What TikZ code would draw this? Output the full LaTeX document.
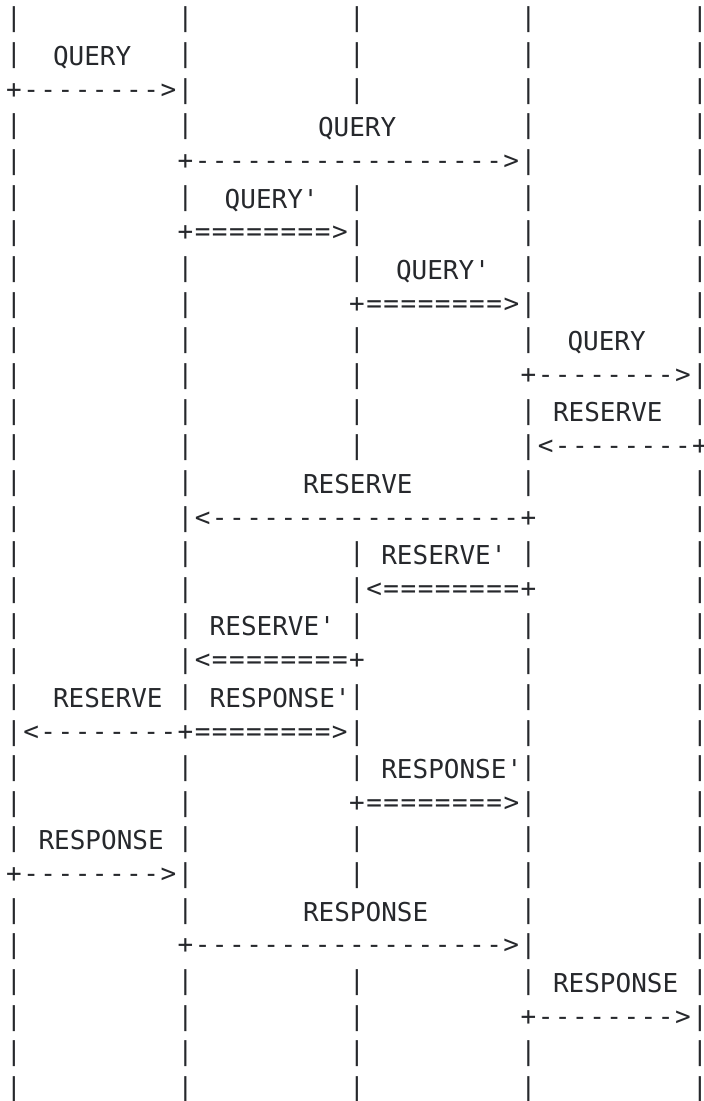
\documentclass[tikz,border=0pt]{standalone}
\usepackage{fontspec}
\setmonofont{DejaVu Sans Mono}
\definecolor{ink}{RGB}{38,40,44}

% one fixed-width cell per character; '.' leaves the cell empty
\newlength\cellw
\setlength\cellw{17.15pt}
\newcommand\cellchar[1]{\makebox[\cellw][c]{\if.#1\else#1\fi}}
\makeatletter
\newcommand\cellrow[1]{\cellrow@#1\@nil}
\def\cellrow@#1{\ifx#1\@nil\else\cellchar{#1}\expandafter\cellrow@\fi}
\makeatother
% the right-most column: a narrow box centred on the same spot
\newcommand\edgechar[1]{\hspace{6.575pt}\makebox[4pt][c]{#1}}

\tikzset{
  glyphs/.style={anchor=base west, inner sep=0pt, outer sep=0pt, text=ink,
    font=\ttfamily\fontsize{26pt}{26pt}\selectfont},
  symrow/.style={glyphs},
  msglabel/.style={glyphs}
}
% row r: centre line at -(20 + (r-1)*35.66)
\newcommand\symrow[3]{\node[symrow] (row#1) at (5.425,{-26.8-(#1-1)*35.66}) {\cellrow{#2}\edgechar{#3}};}
\newcommand\msg[4]{\node[msglabel] (#1) at (#3,{-29.7-(#2-1)*35.66}) {#4};}

\begin{document}
\begin{tikzpicture}[x=1pt,y=1pt]
\useasboundingbox (0,0) rectangle (704,-1101);

% lifelines and arrows
\symrow{1}{|.........|.........|.........|.........}{|}
\symrow{2}{|.........|.........|.........|.........}{|}
\symrow{3}{+-------->|.........|.........|.........}{|}
\symrow{4}{|.........|...................|.........}{|}
\symrow{5}{|.........+------------------>|.........}{|}
\symrow{6}{|.........|.........|.........|.........}{|}
\symrow{7}{|.........+========>|.........|.........}{|}
\symrow{8}{|.........|.........|.........|.........}{|}
\symrow{9}{|.........|.........+========>|.........}{|}
\symrow{10}{|.........|.........|.........|.........}{|}
\symrow{11}{|.........|.........|.........+-------->}{|}
\symrow{12}{|.........|.........|.........|.........}{|}
\symrow{13}{|.........|.........|.........|<--------}{+}
\symrow{14}{|.........|...................|.........}{|}
\symrow{15}{|.........|<------------------+.........}{|}
\symrow{16}{|.........|.........|.........|.........}{|}
\symrow{17}{|.........|.........|<========+.........}{|}
\symrow{18}{|.........|.........|.........|.........}{|}
\symrow{19}{|.........|<========+.........|.........}{|}
\symrow{20}{|.........|.........|.........|.........}{|}
\symrow{21}{|<--------+========>|.........|.........}{|}
\symrow{22}{|.........|.........|.........|.........}{|}
\symrow{23}{|.........|.........+========>|.........}{|}
\symrow{24}{|.........|.........|.........|.........}{|}
\symrow{25}{+-------->|.........|.........|.........}{|}
\symrow{26}{|.........|...................|.........}{|}
\symrow{27}{|.........+------------------>|.........}{|}
\symrow{28}{|.........|.........|.........|.........}{|}
\symrow{29}{|.........|.........|.........+-------->}{|}
\symrow{30}{|.........|.........|.........|.........}{|}
\symrow{31}{|.........|.........|.........|.........}{|}

% message labels
\msg{q1}{2}{53}{QUERY}
\msg{q2}{4}{318}{QUERY}
\msg{q3}{6}{224.7}{QUERY'}
\msg{q4}{8}{396}{QUERY'}
\msg{q5}{10}{567.5}{QUERY}
\msg{r1}{12}{553}{RESERVE}
\msg{r2}{14}{303}{RESERVE}
\msg{r3}{16}{381.3}{RESERVE'}
\msg{r4}{18}{209.7}{RESERVE'}
\msg{r5}{20}{53}{RESERVE}
\msg{p1}{20}{209.7}{RESPONSE'}
\msg{p2}{22}{381.3}{RESPONSE'}
\msg{p3}{24}{38.5}{RESPONSE}
\msg{p4}{26}{303}{RESPONSE}
\msg{p5}{28}{553}{RESPONSE}
\end{tikzpicture}
\end{document}
